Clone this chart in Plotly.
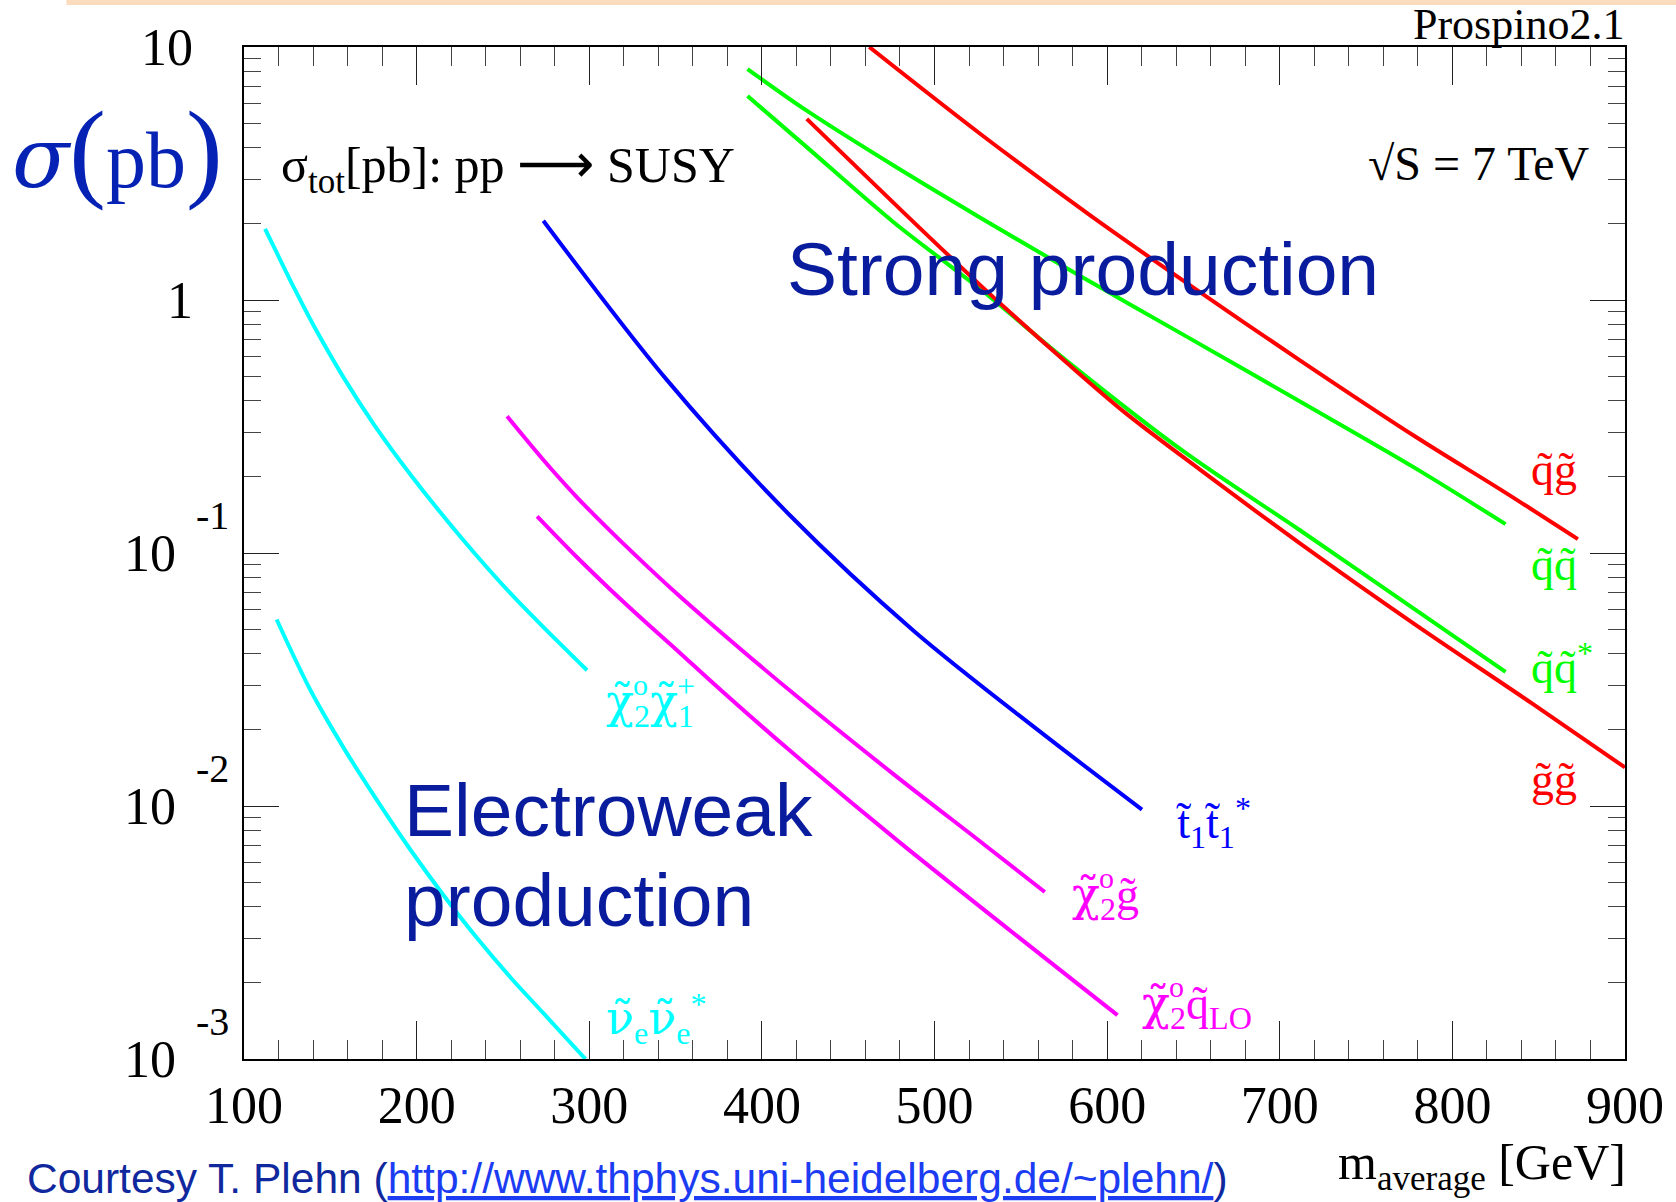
import plotly.graph_objects as go
import numpy as np

# ---------------- data ----------------
# cyan: chi2^0 chi1^+
m_n2c1 = [112.2, 119.3, 128.9, 140.5, 157.9, 175.3, 196.5, 225.4, 254.4, 273.7, 298.7]
s_n2c1 = [1.91, 1.52, 1.12, 0.789, 0.491, 0.322, 0.204, 0.116, 0.0692, 0.0507, 0.0344]
# cyan: sneutrino pair
m_snu = [118.9, 138.6, 157.9, 177.2, 196.5, 215.8, 235.1, 254.4, 273.7, 297.8]
s_snu = [0.0546, 0.0286, 0.0169, 0.0105, 0.0067, 0.00442, 0.0030, 0.0021, 0.00151, 0.00100]
# magenta: chi2^0 gluino
m_n2g = [252.4, 273.7, 292.9, 312.3, 331.6, 350.8, 370.2, 416.2, 476.2, 528.9, 563.9]
s_n2g = [0.347, 0.232, 0.166, 0.122, 0.0912, 0.069, 0.0528, 0.0286, 0.01337, 0.00703, 0.00457]
# magenta: chi2^0 squark (LO)
m_n2q = [269.8, 292.9, 312.3, 331.6, 350.8, 376.0, 416.2, 478.6, 606.0]
s_n2q = [0.1396, 0.0962, 0.0716, 0.0541, 0.0413, 0.0288, 0.01656, 0.0073, 0.00149]
# blue: stop pair
m_stop = [273.4, 344.2, 416.2, 488.2, 560.2, 620.2]
s_stop = [2.058, 0.490, 0.141, 0.0491, 0.0199, 0.00968]
# red: squark gluino
m_sqgl = [462.2, 526.8, 590.6, 644.3, 711.5, 778.7, 829.1, 872.7]
s_sqgl = [10.0, 4.52, 2.15, 1.19, 0.579, 0.288, 0.176, 0.1135]
# green: squark squark
m_sqsq = [391.7, 426.0, 476.3, 526.8, 577.1, 644.3, 711.5, 778.7, 830.8]
s_sqsq = [8.18, 5.60, 3.40, 2.11, 1.33, 0.728, 0.398, 0.216, 0.130]
# green: squark antisquark
m_sqsqb = [391.7, 426.0, 476.3, 526.8, 577.1, 644.3, 711.5, 778.7, 830.8]
s_sqsqb = [6.40, 4.02, 2.03, 1.10, 0.571, 0.252, 0.1233, 0.0596, 0.0339]
# red: gluino gluino
m_glgl = [426.0, 476.3, 526.8, 577.1, 610.7, 654.4, 711.5, 778.7, 845.9, 900.0]
s_glgl = [5.20, 2.42, 1.14, 0.561, 0.357, 0.212, 0.1094, 0.0520, 0.0255, 0.0142]

# axis ticks
x_tickvals = [100, 200, 300, 400, 500, 600, 700, 800, 900]
y_tickvals = [1e-3, 1e-2, 1e-1, 1, 10]
y_tickbase = ["10", "10", "10", "1", "10"]
y_tickexp = ["-3", "-2", "-1", "", ""]

# ---------------- layout geometry ----------------
W, H = 1676, 1202
L, R, T, B = 244, 1628, 47, 1059


def px_x(X):
    return (X - L) / (R - L)


def px_y(Y):
    return (B - Y) / (B - T)


SERIF = "Liberation Serif"
SANS = "Liberation Sans"

fig = go.Figure()

series = [
    (m_n2c1, s_n2c1, "#00FFFF"),
    (m_snu, s_snu, "#00FFFF"),
    (m_n2g, s_n2g, "#FF00FF"),
    (m_n2q, s_n2q, "#FF00FF"),
    (m_stop, s_stop, "#0000FF"),
    (m_sqgl, s_sqgl, "#FF0000"),
    (m_sqsq, s_sqsq, "#00FF00"),
    (m_sqsqb, s_sqsqb, "#00FF00"),
    (m_glgl, s_glgl, "#FF0000"),
]
for mx, sy, col in series:
    fig.add_trace(go.Scatter(x=mx, y=sy, mode="lines",
                             line=dict(color=col, width=4, shape="spline", smoothing=0.9),
                             showlegend=False, hoverinfo="skip"))

fig.update_xaxes(range=[100, 900], tickmode="array", tickvals=x_tickvals,
                 ticks="inside", ticklen=38, tickwidth=1, tickcolor="#222",
                 minor=dict(dtick=20, tick0=100, ticks="inside", ticklen=19,
                            tickwidth=1, tickcolor="#444", showgrid=False),
                 showline=True, linecolor="black", linewidth=2, mirror="ticks",
                 showgrid=False, zeroline=False,
                 tickfont=dict(family=SERIF, size=52, color="black"),
                 ticklabelstandoff=0)
fig.update_yaxes(type="log", range=[-3, 1], dtick=1,
                 ticks="inside", ticklen=35, tickwidth=1, tickcolor="#222",
                 minor=dict(dtick="D1", ticks="inside", ticklen=17, tickwidth=1,
                            tickcolor="#444", showgrid=False),
                 showline=True, linecolor="black", linewidth=2, mirror="ticks",
                 showgrid=False, zeroline=False, showticklabels=False)

ann = []
# y tick labels (ROOT style, detached exponent)
for v, base, ex in zip(y_tickvals, y_tickbase, y_tickexp):
    right = 177 if ex else 194
    ann.append(dict(x=px_x(right), xref="paper", y=np.log10(v), yref="y",
                    text=base, showarrow=False, xanchor="right", yanchor="middle",
                    borderpad=0, font=dict(family=SERIF, size=52, color="black")))
    if ex:
        ann.append(dict(x=px_x(195), xref="paper", y=np.log10(v), yref="y", yshift=38,
                        text=ex, showarrow=False, xanchor="left", yanchor="middle",
                        borderpad=0, font=dict(family=SERIF, size=40, color="black")))


def txt(text, X, Y, size, color="black", family=SERIF, xanchor="left", xshift=0, yshift=0):
    ann.append(dict(x=px_x(X), y=px_y(Y), xref="paper", yref="paper", text=text,
                    showarrow=False, xanchor=xanchor, yanchor="middle", borderpad=0,
                    xshift=xshift, yshift=yshift,
                    font=dict(family=family, size=size, color=color)))


def gk(s):
    return "<span style='font-family:DejaVu Serif'>" + s + "</span>"


txt("Prospino2.1", 1628, 25, 44, xanchor="right")
txt("σ<sub>tot</sub>[pb]: pp <span style='font-family:DejaVu Sans;font-size:54px'>⟶</span> SUSY",
    280, 166, 50)
txt("√S = 7 TeV", 1594, 163, 48, xanchor="right")
txt("<span style='font-family:DejaVu Serif;font-style:italic;font-size:84px'>σ</span>"
    "<span style='font-size:110px'>(</span>pb"
    "<span style='font-size:110px'>)</span>",
    10, 150, 80, color="#0522B4")
txt("Strong production", 787, 269, 75, color="#0A1C9E", family=SANS)
txt("Electroweak", 403, 810, 75, color="#0A1C9E", family=SANS)
txt("production", 403, 900, 75, color="#0A1C9E", family=SANS)

# curve labels
CH = gk("χ\u0303")
NU = gk("ν\u0303")
txt("q\u0303g\u0303", 1533, 469, 46, color="#FF0000")
txt("q\u0303q\u0303", 1533, 564, 46, color="#00FF00")
txt("q\u0303q\u0303<sup>*</sup>", 1533, 664, 46, color="#00FF00")
txt("g\u0303g\u0303", 1533, 779, 46, color="#FF0000")
txt("t\u0303<sub>1</sub>t\u0303<sub>1</sub><sup>*</sup>", 1177, 822, 46, color="#0000FF")

# chi labels with stacked sup/sub
chi_w = 27
txt(CH + "<sub>2</sub>g\u0303", 1073, 897, 46, color="#FF00FF")
txt("o", 1073 + chi_w, 897, 30, color="#FF00FF", yshift=20)
txt(CH + "<sub>2</sub>q\u0303<sub>LO</sub>", 1143, 1006, 46, color="#FF00FF")
txt("o", 1143 + chi_w, 1006, 30, color="#FF00FF", yshift=20)
txt(CH + "<sub>2</sub>" + CH + "<sub>1</sub>", 606, 704, 46, color="#00FFFF")
txt("o", 606 + chi_w, 704, 30, color="#00FFFF", yshift=20)
txt("+", 606 + 2 * chi_w + 17, 704, 32, color="#00FFFF", yshift=18)
txt(NU + "<sub>e</sub>" + NU + "<sub>e</sub><sup>*</sup>", 606, 1018, 46, color="#00FFFF")

# x axis title
txt("m<sub>average</sub> [GeV]", 1630, 1166, 50, xanchor="right")
# courtesy line
txt("Courtesy T. Plehn (<span style='color:#1B3CF2;text-decoration:underline'>"
    "http://www.thphys.uni-heidelberg.de/~plehn/</span>)",
    26, 1178, 42.5, color="#10289E", family=SANS)

fig.update_layout(
    width=W, height=H,
    margin=dict(l=L, r=W - R, t=T, b=H - B, pad=0),
    paper_bgcolor="white", plot_bgcolor="white",
    annotations=ann,
    shapes=[dict(type="rect", xref="paper", yref="paper",
                 x0=px_x(66), x1=px_x(1680), y0=px_y(5), y1=px_y(-2),
                 fillcolor="#FBDCBF", line=dict(width=0), layer="below")],
)

fig.write_html("out.html", config={"displayModeBar": False},
               post_script="document.body.style.margin='0';")
